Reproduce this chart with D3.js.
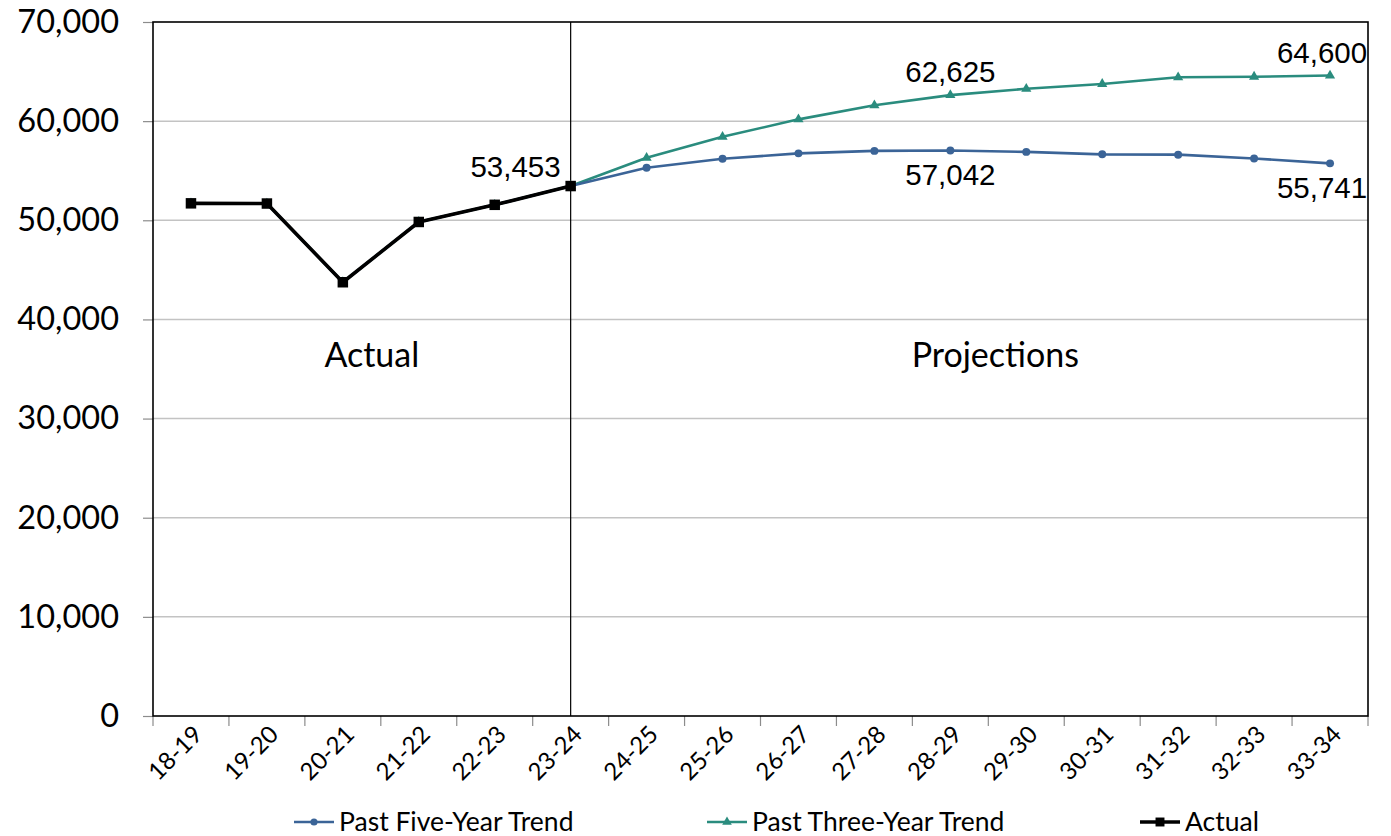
<!DOCTYPE html>
<html>
<head>
<meta charset="utf-8">
<script src="https://cdn.jsdelivr.net/npm/d3@7"></script>
<style>
  html, body { margin: 0; padding: 0; background: #fff; }
  svg { display: block; }
</style>
</head>
<body>
<svg id="chart" width="1391" height="836"></svg>
<script>
// School years on the x axis
const years = ["18-19","19-20","20-21","21-22","22-23","23-24","24-25","25-26",
               "26-27","27-28","28-29","29-30","30-31","31-32","32-33","33-34"];

// Enrollment counts (null = no value for that year)
const actual = [51710, 51690, 43750, 49830, 51560, 53453,
                null, null, null, null, null, null, null, null, null, null];
const fiveYearTrend = [51710, 51690, 43750, 49830, 51560, 53453,
                       55300, 56200, 56750, 57000, 57042, 56900, 56650, 56620, 56230, 55741];
const threeYearTrend = [51710, 51690, 43750, 49830, 51560, 53453,
                        56300, 58420, 60180, 61600, 62625, 63260, 63750, 64420, 64480, 64600];

const yTicks = [0, 10000, 20000, 30000, 40000, 50000, 60000, 70000];

// Value callouts: [series, year, position]
const callouts = [
  ["actual", "23-24", "left"],
  ["three", "28-29", "above"],
  ["five", "28-29", "below"],
  ["three", "33-34", "above"],
  ["five", "33-34", "below"]
];

const colors = { five: "#3b6497", three: "#2a8c7e", actual: "#000000" };

const svg = d3.select("#chart");
const W = 1391, H = 836;
const m = { left: 153, top: 22, right: 23, bottom: 120 };
const iw = W - m.left - m.right, ih = H - m.top - m.bottom;

const x = d3.scaleBand().domain(years).range([0, iw]).paddingInner(0).paddingOuter(0);
const y = d3.scaleLinear().domain([0, 70000]).range([ih, 0]);
const cx = d => x(d) + x.bandwidth() / 2;

const g = svg.append("g").attr("transform", `translate(${m.left},${m.top})`);
const fmt = d3.format(",");
const labelFont = "Lato, 'Open Sans', sans-serif";

// Horizontal gridlines
g.append("g").selectAll("line").data(yTicks.filter(t => t > 0 && t < 70000)).join("line")
  .attr("x1", 0).attr("x2", iw)
  .attr("y1", d => y(d)).attr("y2", d => y(d))
  .attr("stroke", "#c3c3c3").attr("stroke-width", 1.5);

// Y axis
const yAxis = g.append("g").call(d3.axisLeft(y).tickValues(yTicks).tickFormat(d => fmt(d)).tickSize(10).tickPadding(24));
yAxis.select(".domain").remove();
yAxis.selectAll(".tick line").attr("stroke", "#8c8c8c").attr("stroke-width", 1.2);
yAxis.selectAll("text").attr("font-family", labelFont).attr("font-size", 32.5).attr("fill", "#000");

// X axis with ticks between categories
const xAxis = g.append("g").attr("transform", `translate(0,${ih})`)
  .call(d3.axisBottom(x).tickSize(0).tickPadding(0));
xAxis.select(".domain").remove();
xAxis.selectAll(".tick text")
  .attr("font-family", labelFont).attr("font-size", 24).attr("fill", "#000")
  .attr("text-anchor", "end")
  .attr("transform", "translate(7,14) rotate(-45)")
  .attr("dy", "0.35em").attr("y", 0).attr("x", 0);
const bounds = years.map(d => x(d)).concat([iw]);
g.append("g").selectAll("line").data(bounds).join("line")
  .attr("x1", d => d).attr("x2", d => d)
  .attr("y1", ih).attr("y2", ih + 10)
  .attr("stroke", "#8c8c8c").attr("stroke-width", 1.2);

// Plot frame
g.append("rect").attr("x", 0).attr("y", 0).attr("width", iw).attr("height", ih)
  .attr("fill", "none").attr("stroke", "#000").attr("stroke-width", 1.6);

// Divider between actual and projected years
g.append("line")
  .attr("x1", cx("23-24")).attr("x2", cx("23-24"))
  .attr("y1", 0).attr("y2", ih)
  .attr("stroke", "#000").attr("stroke-width", 1.2);

// Section labels
g.append("text").attr("x", (cx("20-21") + cx("21-22")) / 2 - 9).attr("y", y(35000) - 2)
  .attr("text-anchor", "middle").attr("font-family", labelFont).attr("font-size", 34)
  .text("Actual");
g.append("text").attr("x", (cx("28-29") + cx("29-30")) / 2 + 7).attr("y", y(35000) - 2)
  .attr("text-anchor", "middle").attr("font-family", labelFont).attr("font-size", 34)
  .text("Projections");

const line = d3.line().defined(d => d[1] != null).x(d => cx(d[0])).y(d => y(d[1]));
const pairs = arr => years.map((yr, i) => [yr, arr[i]]);

// Trend series
function drawSeries(arr, color, width, marker) {
  const data = pairs(arr).filter(d => d[1] != null);
  g.append("path").datum(data).attr("d", line)
    .attr("fill", "none").attr("stroke", color).attr("stroke-width", width)
    .attr("stroke-linejoin", "round");
  const mk = g.append("g").selectAll("path").data(data).join("path")
    .attr("transform", d => `translate(${cx(d[0])},${y(d[1])})`)
    .attr("fill", color);
  if (marker === "circle") mk.attr("d", d3.symbol(d3.symbolCircle, 50)());
  if (marker === "triangle") mk.attr("d", d3.symbol(d3.symbolTriangle, 45)());
  if (marker === "square") mk.attr("d", d3.symbol(d3.symbolSquare, 110)());
}
drawSeries(threeYearTrend, colors.three, 2.6, "triangle");
drawSeries(fiveYearTrend, colors.five, 2.6, "circle");
drawSeries(actual, colors.actual, 3.6, "square");

// Value callouts
const seriesMap = { actual, five: fiveYearTrend, three: threeYearTrend };
callouts.forEach(([s, yr, pos]) => {
  const v = seriesMap[s][years.indexOf(yr)];
  const px = cx(yr), py = y(v);
  const t = g.append("text").attr("font-family", "'Liberation Sans', Arial, sans-serif")
    .attr("font-size", 29.5).attr("fill", "#000").text(fmt(v));
  if (pos === "left") t.attr("x", px - 10).attr("y", py - 9).attr("text-anchor", "end");
  if (pos === "above") t.attr("x", px - (yr === "33-34" ? 8 : 0)).attr("y", py - 13).attr("text-anchor", "middle");
  if (pos === "below") t.attr("x", px - (yr === "33-34" ? 8 : 0)).attr("y", py + 35).attr("text-anchor", "middle");
});

// Legend
const legendItems = [
  { name: "Past Five-Year Trend", color: colors.five, marker: d3.symbolCircle, size: 40, x: 294 },
  { name: "Past Three-Year Trend", color: colors.three, marker: d3.symbolTriangle, size: 40, x: 707 },
  { name: "Actual", color: colors.actual, marker: d3.symbolSquare, size: 80, x: 1140 }
];
const lg = svg.append("g").attr("transform", "translate(0,822)");
legendItems.forEach(it => {
  const item = lg.append("g").attr("transform", `translate(${it.x},0)`);
  item.append("line").attr("x1", 0).attr("x2", 40).attr("y1", 0).attr("y2", 0)
    .attr("stroke", it.color).attr("stroke-width", it.name === "Actual" ? 3.6 : 2.6);
  item.append("path").attr("d", d3.symbol(it.marker, it.size)()).attr("transform", "translate(20,0)")
    .attr("fill", it.color);
  item.append("text").attr("x", 45).attr("y", 0).attr("dy", "0.35em")
    .attr("font-family", labelFont).attr("font-size", 26.5).attr("fill", "#000").text(it.name);
});
</script>
</body>
</html>
